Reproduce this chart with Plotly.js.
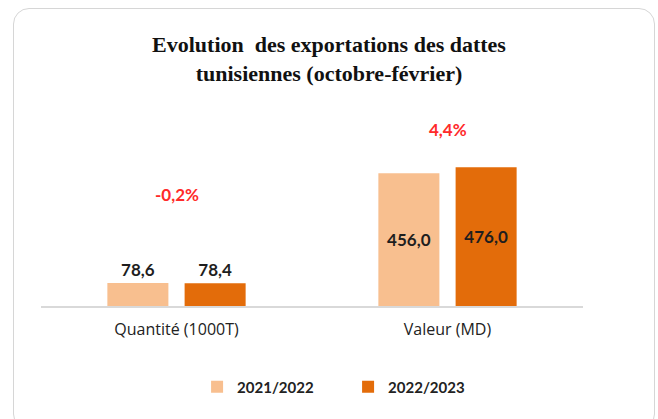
<!DOCTYPE html>
<html>
<head>
<meta charset="utf-8">
<script src="https://cdn.plot.ly/plotly-3.0.1.min.js"></script>
<style>
  html, body { margin: 0; padding: 0; background: #ffffff; }
  #wrap { position: relative; width: 658px; height: 419px; overflow: hidden; }
  #chart { position: absolute; left: 0; top: 0; width: 658px; height: 419px; }
  #frame { position: absolute; left: 13px; top: 8px; width: 640px; height: 420px;
           border: 1.5px solid #d6d6d6; border-radius: 16px; pointer-events: none; }
</style>
</head>
<body>
<div id="wrap">
  <div id="chart"></div>
  <div id="frame"></div>
</div>
<script>
// ---- data ----
const categories = ['Quantité (1000T)', 'Valeur (MD)'];
const seriesNames = ['2021/2022', '2022/2023'];
const values2122 = [78.6, 456.0];
const values2223 = [78.4, 476.0];
const changeLabels = ['-0,2%', '4,4%'];
const titleLines = ['Evolution  des exportations des dattes', 'tunisiennes (octobre-février)'];

// ---- helpers ----
const fmt = v => v.toFixed(1).replace('.', ',');
const labelFont = { family: 'Lato, "Open Sans", sans-serif', size: 17, color: '#1e1e1e', weight: 'bold' };

function barTrace(name, vals, color) {
  return {
    type: 'bar',
    name: name,
    x: categories,
    y: vals,
    marker: { color: color },
    text: vals.map(fmt),
    textposition: vals.map(v => v > 200 ? 'inside' : 'outside'),
    insidetextanchor: 'middle',
    textfont: labelFont,
    insidetextfont: labelFont,
    outsidetextfont: labelFont,
    constraintext: 'none',
    cliponaxis: false,
    hoverinfo: 'x+y'
  };
}

const data = [
  barTrace(seriesNames[0], values2122, '#F8BF8F'),
  barTrace(seriesNames[1], values2223, '#E36C0A')
];

const annY = [383, 607];
const annotations = categories.map((c, i) => ({
  x: c, y: annY[i], xref: 'x', yref: 'y',
  text: changeLabels[i], showarrow: false,
  font: { family: 'Lato, "Open Sans", sans-serif', size: 17, color: '#FF2A2A', weight: 'bold' }
}));

const layout = {
  width: 658, height: 419,
  paper_bgcolor: '#ffffff', plot_bgcolor: '#ffffff',
  margin: { l: 41, r: 75, t: 105, b: 113 },
  title: {
    text: '<b>' + titleLines.join('<br>') + '</b>',
    font: { family: '"Liberation Serif", "Times New Roman", serif', size: 22, color: '#111111' },
    x: 0.5, xref: 'container', xanchor: 'center',
    y: 1 - 52 / 419, yref: 'container', yanchor: 'top'
  },
  barmode: 'group',
  bargap: 0.43,
  bargroupgap: 0.21,
  xaxis: {
    showline: true, linecolor: '#d9d9d9', linewidth: 1.5,
    ticks: '', showgrid: false, zeroline: false,
    ticklabelstandoff: 8,
    tickfont: { family: '"Open Sans", Lato, sans-serif', size: 16, color: '#222222' }
  },
  yaxis: {
    range: [0, 690], visible: false, showgrid: false, zeroline: false, fixedrange: true
  },
  showlegend: true,
  legend: {
    orientation: 'h',
    x: 0.529, xref: 'container', xanchor: 'center',
    y: 1 - 387 / 419, yref: 'container', yanchor: 'middle',
    font: { family: 'Lato, "Open Sans", sans-serif', size: 15, color: '#222222', weight: 'bold' },
    itemwidth: 30,
    entrywidth: 106,
    traceorder: 'normal'
  },
  annotations: annotations
};

Plotly.newPlot('chart', data, layout, { displayModeBar: false, staticPlot: true });
</script>
</body>
</html>
